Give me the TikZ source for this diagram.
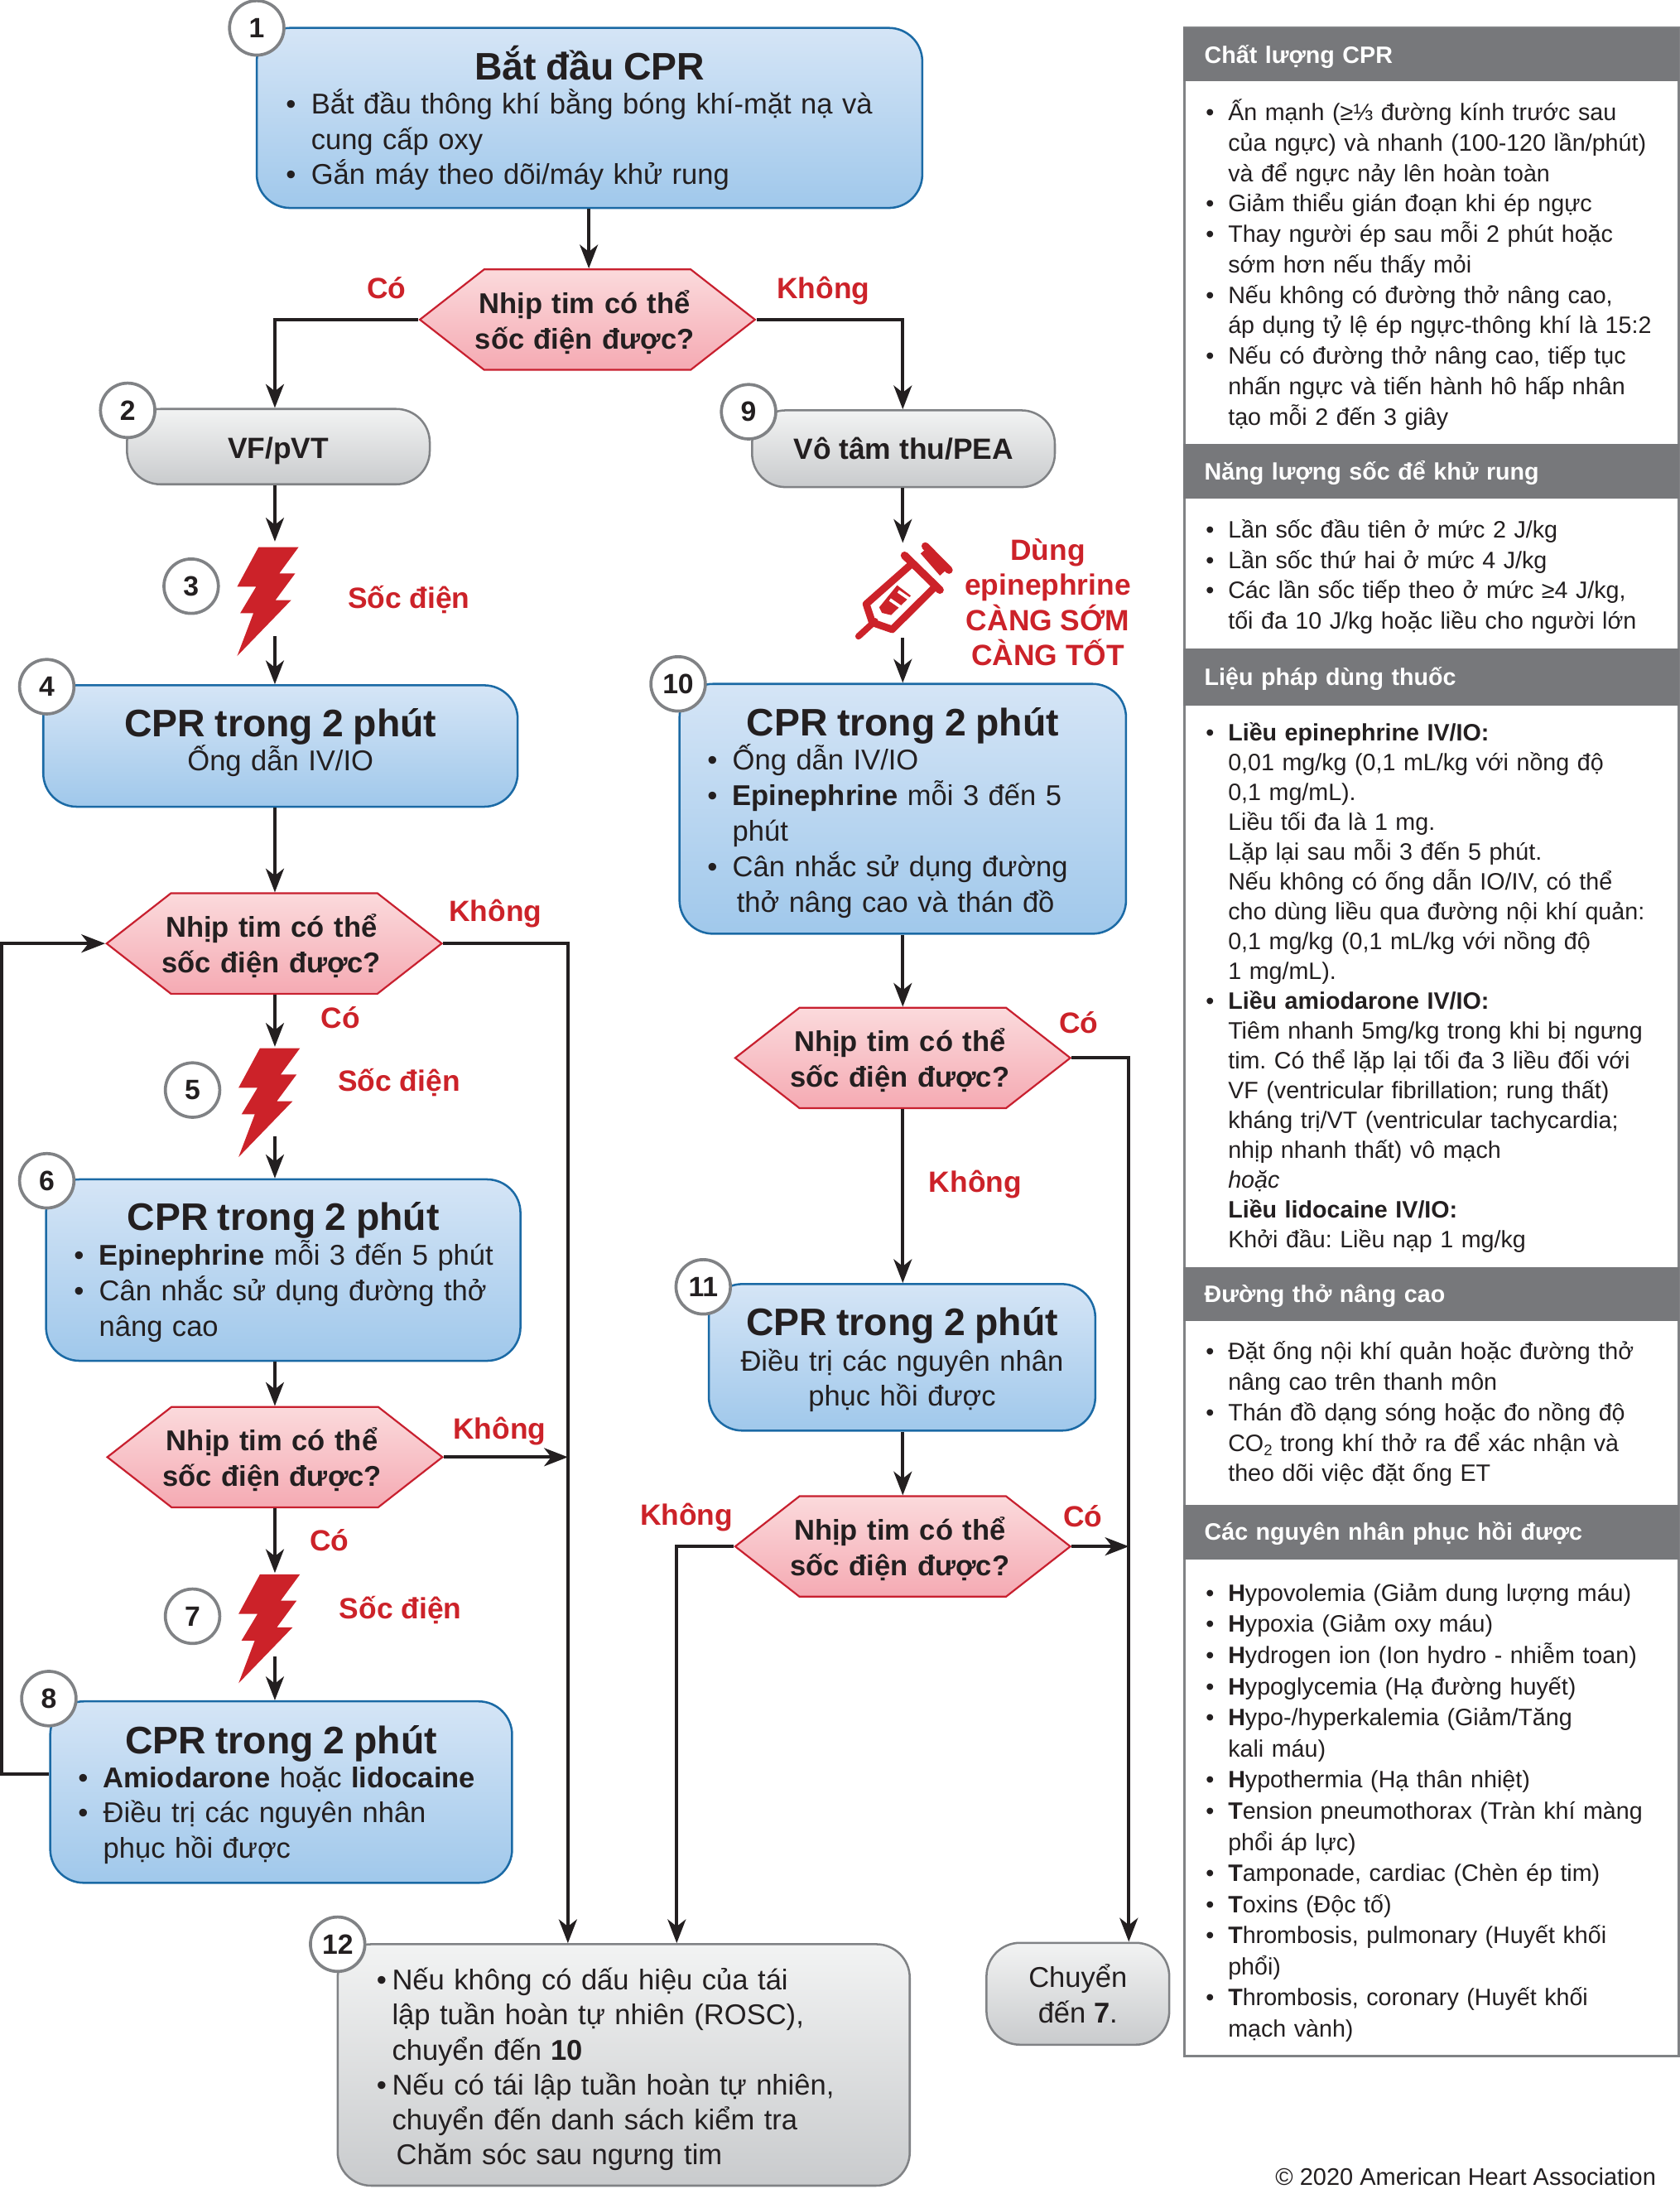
\documentclass[tikz,border=0pt]{standalone}
\usepackage{fontspec}
\setmainfont{Liberation Sans}
\usetikzlibrary{arrows.meta,shapes.symbols,calc}
\definecolor{ink}{HTML}{231F20}
\definecolor{hred}{HTML}{CC2229}
\definecolor{hexedge}{HTML}{C8202F}
\definecolor{blueedge}{HTML}{1B6AA5}
\definecolor{grayedge}{HTML}{808285}
\definecolor{headgray}{HTML}{77787B}
\definecolor{bluetop}{HTML}{D5E5F6}
\definecolor{bluebot}{HTML}{A0C8EB}
\definecolor{graytop}{HTML}{F2F3F3}
\definecolor{graybot}{HTML}{C9CBCD}
\definecolor{pinktop}{HTML}{FBDADC}
\definecolor{pinkbot}{HTML}{F5AAB3}
\newcommand{\bl}[1][18pt]{\makebox[#1][l]{•}}
\newcommand{\cl}[1][18pt]{\hspace*{#1}}
\newcommand{\pb}{\hspace*{-16pt}\makebox[16pt][l]{•}}
\newcommand{\ttl}[1]{\makebox[\linewidth][c]{\fontsize{27.5}{30}\selectfont\bfseries #1}}
\newcommand{\ctr}[1]{\makebox[\linewidth][c]{#1}}
\newcommand{\topfix}[1]{\rule{0pt}{#1}}
\newcommand{\botfix}[1]{\rule[-#1]{0pt}{#1}}
\newcommand{\hextxt}{\topfix{20pt}\ctr{Nhịp tim có thể\hspace*{4pt}}\\\ctr{sốc điện được?\hspace*{4pt}}}
\tikzset{
 flowtext/.style={font=\fontsize{20.5}{25.4}\selectfont\frenchspacing,text=ink,inner sep=0pt,align=left},
 bluebox/.style={flowtext,draw=blueedge,line width=1.5pt,rounded corners=24pt,top color=bluetop,bottom color=bluebot},
 graybox/.style={flowtext,draw=grayedge,line width=1.5pt,rounded corners=24pt,top color=graytop,bottom color=graybot},
 hexa/.style={shape=signal,signal to=east and west,signal pointer angle=76,draw=hexedge,line width=1.3pt,top color=pinktop,bottom color=pinkbot,inner sep=0pt,text width=148pt,minimum height=72pt,align=center,text=ink,font=\fontsize{20.5}{25.4}\selectfont\bfseries},
 badge/.style={circle,draw=grayedge,fill=white,line width=2.2pt,minimum size=39pt,inner sep=0pt,text=ink,font=\fontsize{20}{22}\selectfont\bfseries},
 arr/.style={draw=ink,line width=2.4pt,-{Stealth[length=17pt,width=13pt,inset=5pt]}},
 redlab/.style={text=hred,font=\fontsize{21}{25}\selectfont\bfseries,inner sep=0pt,align=center,xshift=1pt},
 oneline/.style={text height=16pt,text depth=5pt,yshift=-1.5pt},
 panelhead/.style={fill=headgray,text=white,anchor=north west,minimum width=355pt,inner sep=0pt,text width=355pt,text height=14pt,text depth=2pt,align=left,font=\fontsize{17}{20}\selectfont\bfseries},
 paneltext/.style={anchor=base west,inner sep=0pt,text=ink,align=left,text width=322pt,font=\fontsize{17}{21.8}\selectfont\frenchspacing},
 pics/zap/.style={code={\fill[hred] (15.3,0) -- (44,0) -- (30.2,18.8) -- (41.6,18.8) -- (27.4,38) -- (38.7,38) -- (0,78) -- (11.6,47.4) -- (2.1,47.4) -- (13.6,28.3) -- (0,28.3) -- cycle;}}
}
\begin{document}
\begin{tikzpicture}[x=1pt,y=-1pt]
\useasboundingbox (0,0) rectangle (1204,1568.4);
\coordinate (colL) at (197,0);
\coordinate (colM) at (422,0);
\coordinate (colR) at (647,0);
\coordinate (busA) at (407,0);
\coordinate (busB) at (485,0);
\coordinate (busC) at (809,0);

% --- boxes
\node[bluebox,minimum width=477pt,minimum height=129pt,text width=435pt] (b1) at (422.5,84.5)
 {\ttl{Bắt đầu CPR}\\[-1pt]\bl Bắt đầu thông khí bằng bóng khí-mặt nạ và\\\cl cung cấp oxy\\\bl Gắn máy theo dõi/máy khử rung};
\node[hexa] (h1) at (421,229) {\hextxt};
\node[graybox,minimum width=217pt,minimum height=54pt,align=center,font=\fontsize{21}{25}\selectfont\bfseries] (b2) at (199.5,320) {\topfix{21pt}VF/pVT};
\node[graybox,minimum width=217pt,minimum height=55pt,align=center,font=\fontsize{21}{25}\selectfont\bfseries] (b9) at (647.5,321.5) {Vô tâm thu/PEA};
\node[bluebox,minimum width=340pt,minimum height=87pt,text width=320pt] (b4) at (201,534.5)
 {\ttl{CPR trong 2 phút}\\[-1pt]\ctr{Ống dẫn IV/IO}\botfix{9.5pt}};
\node[hexa] (h2) at (196.5,676) {\hextxt};
\node[bluebox,minimum width=340pt,minimum height=130pt,text width=300pt] (b6) at (203,910)
 {\topfix{23pt}\ttl{CPR trong 2 phút}\\\mbox{\bl\textbf{Epinephrine} mỗi 3 đến 5 phút}\\\bl Cân nhắc sử dụng đường thở\\\cl nâng cao};
\node[hexa] (h3) at (197,1044) {\hextxt};
\node[bluebox,minimum width=331pt,minimum height=130pt,text width=291pt] (b8) at (201.5,1284)
 {\topfix{24pt}\ttl{CPR trong 2 phút}\\[-1pt]\bl\textbf{Amiodarone} hoặc \textbf{lidocaine}\\\bl Điều trị các nguyên nhân\\\cl phục hồi được};
\node[bluebox,minimum width=320pt,minimum height=179pt,text width=280pt] (b10) at (647,579.5)
 {\topfix{26pt}\ttl{CPR trong 2 phút}\\[-1pt]\bl Ống dẫn IV/IO\\\bl\textbf{Epinephrine} mỗi 3 đến 5\\\cl phút\\\bl Cân nhắc sử dụng đường\\\cl[21pt]thở nâng cao và thán đồ};
\node[hexa] (h4) at (647,758) {\hextxt};
\node[bluebox,minimum width=277pt,minimum height=105pt,text width=260pt] (b11) at (646.5,972.5)
 {\topfix{23.5pt}\ttl{CPR trong 2 phút}\\[0pt]\ctr{Điều trị các nguyên nhân}\\\ctr{phục hồi được}};
\node[hexa] (h5) at (647,1108) {\hextxt};
\node[graybox,minimum width=410pt,minimum height=173pt,text width=354pt,font=\fontsize{20.5}{25}\selectfont\frenchspacing] (b12) at (447,1479.5)
 {\topfix{22pt}\bl[11pt]Nếu không có dấu hiệu của tái\\\cl[11pt]lập tuần hoàn tự nhiên (ROSC),\\\cl[11pt]chuyển đến \textbf{10}\\\bl[11pt]Nếu có tái lập tuần hoàn tự nhiên,\\\cl[11pt]chuyển đến danh sách kiểm tra\\\cl[14pt]Chăm sóc sau ngưng tim};
\node[graybox,minimum width=131pt,minimum height=73pt,align=center] (b13) at (772.5,1428.5) {Chuyển\\đến \textbf{7}.};

% --- shocks and syringe
\pic at (170,392) {zap};
\pic at (171,751) {zap};
\pic at (171,1128) {zap};
\coordinate (z3a) at (197,388);
\coordinate (z3b) at (197,456);
\coordinate (z5a) at (197,750);
\coordinate (z5b) at (197,814);
\coordinate (z7a) at (197,1127);
\coordinate (z7b) at (197,1187);
\coordinate (s1a) at (647,389);
\coordinate (s1b) at (647,457);
\begin{scope}[shift={(593.5,332.3)},x=0.1978pt,y=-0.1978pt]
 \draw[hred,line width=4.6pt,line cap=round] (110,625) -- (170,570);
 \draw[hred,line width=5.2pt,line join=round] (300,365) -- (138,508) -- (160,575) -- (232,600) -- (385,448);
 \draw[hred,line width=5.6pt,line cap=round] (277,332) -- (405,457);
 \fill[hred] (335,325) -- (365,300) -- (435,378) -- (405,405) -- cycle;
 \draw[hred,line width=5.4pt,line cap=round] (352,298) -- (438,385);
 \fill[hred] (185,520) -- (250,440) -- (300,478) -- (228,548) -- (195,540) -- cycle;
 \draw[white,line width=2.2pt] (272,525) -- (224,492);
 \draw[white,line width=2.2pt] (302,495) -- (254,462);
\end{scope}

% --- connectors
\draw[arr] (b1.south -| colM) -- (h1.north -| colM);
\draw[arr] (h1.west) -| (b2.north -| colL);
\draw[arr] (h1.east) -| (b9.north -| colR);
\draw[arr] (b2.south -| colL) -- (z3a);
\draw[arr] (z3b) -- (b4.north -| colL);
\draw[arr] (b9.south -| colR) -- (s1a);
\draw[arr] (s1b) -- (b10.north -| colR);
\draw[arr] (b4.south -| colL) -- (h2.north -| colL);
\draw[arr] (h2.south -| colL) -- (z5a);
\draw[arr] (z5b) -- (b6.north -| colL);
\draw[arr] (b6.south -| colL) -- (h3.north -| colL);
\draw[arr] (h3.south -| colL) -- (z7a);
\draw[arr] (z7b) -- (b8.north -| colL);
\coordinate (fb) at (1,1271);
\draw[arr] (fb -| b8.west) -- (fb) |- (h2.west);
\draw[arr] (h2.east) -| (b12.north -| busA);
\draw[arr] (h3.east) -- (h3.east -| busA);
\draw[arr] (b10.south -| colR) -- (h4.north -| colR);
\draw[arr] (h4.south -| colR) -- (b11.north -| colR);
\draw[arr] (b11.south -| colR) -- (h5.north -| colR);
\draw[arr] (h4.east) -| (b13.north -| busC);
\draw[arr] (h5.east) -- (h5.east -| busC);
\draw[arr] (h5.west) -| (b12.north -| busB);

% --- badges
\node[badge] (n1) at (184,20) {1};
\node[badge] (n2) at (91.5,294) {2};
\node[badge] (n3) at (137,420) {3};
\node[badge] (n4) at (33.5,492) {4};
\node[badge] (n5) at (138,781) {5};
\node[badge] (n6) at (33.5,846) {6};
\node[badge] (n7) at (138,1158) {7};
\node[badge] (n8) at (35,1217) {8};
\node[badge] (n9) at (536.5,295) {9};
\node[badge] (n10) at (486,490) {10};
\node[badge] (n11) at (504,922) {11};
\node[badge] (n12) at (242,1393) {12};

% --- red labels
\node[redlab,oneline] (l1) at (276,207) {Có};
\node[redlab,oneline] (l2) at (589,207) {Không};
\node[redlab,oneline] (l3) at (292,429) {Sốc điện};
\node[redlab,oneline] (l4) at (354,653) {Không};
\node[redlab,oneline] (l5) at (243,730) {Có};
\node[redlab,oneline] (l6) at (285,775) {Sốc điện};
\node[redlab,oneline] (l7) at (357,1024) {Không};
\node[redlab,oneline] (l8) at (235,1104) {Có};
\node[redlab,oneline] (l9) at (286,1153) {Sốc điện};
\node[redlab,oneline] (l10) at (772,733) {Có};
\node[redlab,oneline] (l11) at (698,847) {Không};
\node[redlab,oneline] (l12) at (491,1086) {Không};
\node[redlab,oneline] (l13) at (775,1087) {Có};
\node[redlab] (l14) at (750,431.5) {Dùng\\epinephrine\\CÀNG SỚM\\CÀNG TỐT};

% --- right panel
\draw[grayedge,line width=1.8pt] (849,20) rectangle (1203,1473);
\node[panelhead,minimum height=38pt] (p1) at (848,20) {\hspace*{15pt}Chất lượng CPR};
\node[paneltext] (t1) at (880,86.5) {\pb Ấn mạnh (≥⅓ đường kính trước sau\\của ngực) và nhanh (100-120 lần/phút)\\và để ngực nảy lên hoàn toàn\\\pb Giảm thiểu gián đoạn khi ép ngực\\\pb Thay người ép sau mỗi 2 phút hoặc\\sớm hơn nếu thấy mỏi\\\pb Nếu không có đường thở nâng cao,\\áp dụng tỷ lệ ép ngực-thông khí là 15:2\\\pb Nếu có đường thở nâng cao, tiếp tục\\nhấn ngực và tiến hành hô hấp nhân\\tạo mỗi 2 đến 3 giây};
\node[panelhead,minimum height=39pt] (p2) at (848,318) {\hspace*{15pt}Năng lượng sốc để khử rung};
\node[paneltext] (t2) at (880,385.3) {\pb Lần sốc đầu tiên ở mức 2 J/kg\\\pb Lần sốc thứ hai ở mức 4 J/kg\\\pb Các lần sốc tiếp theo ở mức ≥4 J/kg,\\tối đa 10 J/kg hoặc liều cho người lớn};
\node[panelhead,minimum height=41pt] (p3) at (848,464.5) {\hspace*{15pt}Liệu pháp dùng thuốc};
\node[paneltext,font=\fontsize{17}{21.35}\selectfont\frenchspacing] (t3) at (880,531) {\pb\textbf{Liều epinephrine IV/IO:}\\0,01 mg/kg (0,1 mL/kg với nồng độ\\0,1 mg/mL).\\Liều tối đa là 1 mg.\\Lặp lại sau mỗi 3 đến 5 phút.\\Nếu không có ống dẫn IO/IV, có thể\\cho dùng liều qua đường nội khí quản:\\0,1 mg/kg (0,1 mL/kg với nồng độ\\1 mg/mL).\\\pb\textbf{Liều amiodarone IV/IO:}\\Tiêm nhanh 5mg/kg trong khi bị ngưng\\tim. Có thể lặp lại tối đa 3 liều đối với\\VF (ventricular fibrillation; rung thất)\\kháng trị/VT (ventricular tachycardia;\\nhịp nhanh thất) vô mạch\\\textit{hoặc}\\\textbf{Liều lidocaine IV/IO:}\\Khởi đầu: Liều nạp 1 mg/kg};
\node[panelhead,minimum height=38pt] (p4) at (848,908) {\hspace*{15pt}Đường thở nâng cao};
\node[paneltext] (t4) at (880,974.3) {\pb Đặt ống nội khí quản hoặc đường thở\\nâng cao trên thanh môn\\\pb Thán đồ dạng sóng hoặc đo nồng độ\\CO\raisebox{-3pt}{\fontsize{11}{12}\selectfont 2} trong khí thở ra để xác nhận và\\theo dõi việc đặt ống ET};
\node[panelhead,minimum height=39pt] (p5) at (848,1078) {\hspace*{15pt}Các nguyên nhân phục hồi được};
\node[paneltext,font=\fontsize{17}{22.3}\selectfont\frenchspacing] (t5) at (880,1147.3) {\pb\textbf{H}ypovolemia (Giảm dung lượng máu)\\\pb\textbf{H}ypoxia (Giảm oxy máu)\\\pb\textbf{H}ydrogen ion (Ion hydro - nhiễm toan)\\\pb\textbf{H}ypoglycemia (Hạ đường huyết)\\\pb\textbf{H}ypo-/hyperkalemia (Giảm/Tăng\\kali máu)\\\pb\textbf{H}ypothermia (Hạ thân nhiệt)\\\pb\textbf{T}ension pneumothorax (Tràn khí màng\\phổi áp lực)\\\pb\textbf{T}amponade, cardiac (Chèn ép tim)\\\pb\textbf{T}oxins (Độc tố)\\\pb\textbf{T}hrombosis, pulmonary (Huyết khối\\phổi)\\\pb\textbf{T}hrombosis, coronary (Huyết khối\\mạch vành)};
\node[anchor=base east,inner sep=0pt,text=ink,font=\fontsize{17.2}{20}\selectfont] (cr) at (1187,1566) {© 2020 American Heart Association};
\end{tikzpicture}
\end{document}
